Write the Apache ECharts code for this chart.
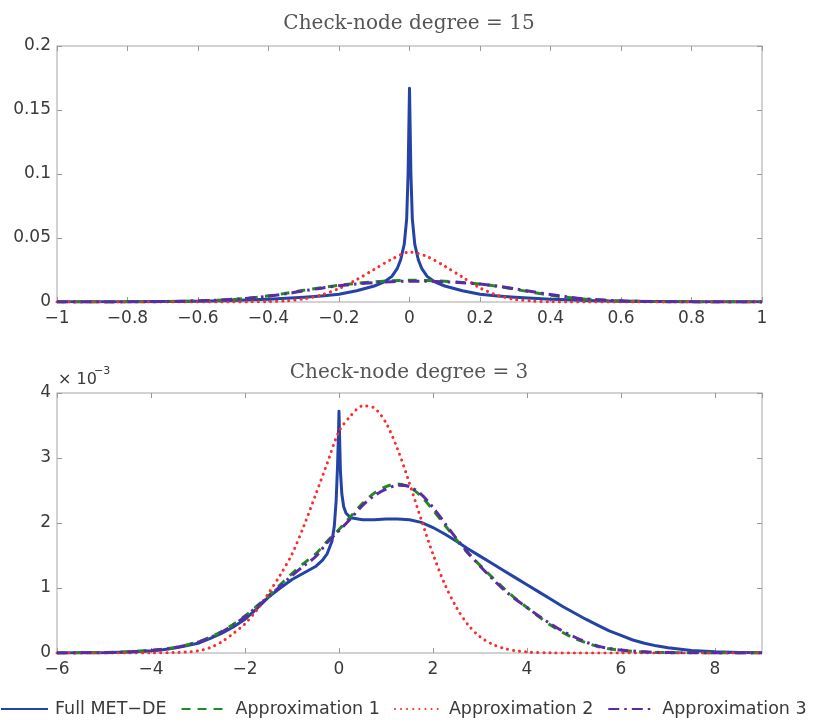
<!DOCTYPE html>
<html><head><meta charset="utf-8">
<script src="https://cdn.jsdelivr.net/npm/echarts/dist/echarts.min.js"></script>
<style>html,body{margin:0;padding:0;background:#fff}#c{width:818px;height:728px}</style>
</head><body><div id="c"></div>
<script>
// ---------- DATA ----------
const seriesNames = ['Full MET\u2212DE', 'Approximation 1', 'Approximation 2', 'Approximation 3'];
const titles = ['Check-node degree = 15', 'Check-node degree = 3'];

// Top panel (check-node degree 15): [x, density]
const topFull = [[-1,0.0001],[-0.8,0.0002],[-0.6,0.0006],[-0.5,0.0012],[-0.45,0.0017],[-0.4,0.0022],[-0.35,0.0029],[-0.3,0.0037],[-0.25,0.0047],[-0.2,0.006],[-0.15,0.0088],[-0.1,0.0125],[-0.07,0.016],[-0.05,0.02],[-0.035,0.026],[-0.025,0.033],[-0.015,0.045],[-0.008,0.065],[-0.004,0.1],[0,0.167],[0.004,0.1],[0.008,0.065],[0.015,0.045],[0.025,0.033],[0.035,0.026],[0.05,0.02],[0.07,0.016],[0.1,0.0125],[0.15,0.0088],[0.2,0.006],[0.25,0.0047],[0.3,0.0037],[0.35,0.0029],[0.4,0.0022],[0.45,0.0017],[0.5,0.0012],[0.6,0.0006],[0.8,0.0002],[1,0.0001]];
const topApprox1 = [[-1,0],[-0.9,0],[-0.8,0.0001],[-0.7,0.0003],[-0.65,0.0005],[-0.6,0.0008],[-0.55,0.0013],[-0.5,0.002],[-0.45,0.0032],[-0.4,0.0048],[-0.35,0.0068],[-0.3,0.0091],[-0.25,0.0112],[-0.2,0.0131],[-0.15,0.0146],[-0.1,0.0158],[-0.05,0.0166],[0,0.017],[0.05,0.0168],[0.1,0.0162],[0.15,0.0153],[0.2,0.0141],[0.25,0.0122],[0.3,0.0099],[0.35,0.0075],[0.4,0.0053],[0.45,0.0035],[0.5,0.0022],[0.55,0.0014],[0.6,0.0008],[0.65,0.0005],[0.7,0.0003],[0.8,0.0001],[0.9,0],[1,0]];
const topApprox2 = [[-1,0],[-0.5,0],[-0.45,0.0001],[-0.4,0.0003],[-0.35,0.0009],[-0.3,0.0024],[-0.25,0.0055],[-0.2,0.0105],[-0.15,0.0175],[-0.1,0.0255],[-0.05,0.0335],[0,0.039],[0.05,0.0355],[0.1,0.028],[0.15,0.0195],[0.2,0.011],[0.25,0.0052],[0.3,0.002],[0.35,0.0007],[0.4,0.0002],[0.45,0],[0.5,0],[1,0]];
const topApprox3 = [[-1,0],[-0.9,0],[-0.8,0.0001],[-0.7,0.0003],[-0.65,0.0005],[-0.6,0.0009],[-0.55,0.0014],[-0.5,0.0021],[-0.45,0.0031],[-0.4,0.0045],[-0.35,0.0064],[-0.3,0.0087],[-0.25,0.0108],[-0.2,0.0127],[-0.15,0.0141],[-0.1,0.0152],[-0.05,0.0159],[0,0.0163],[0.05,0.0162],[0.1,0.0158],[0.15,0.0151],[0.2,0.014],[0.25,0.0124],[0.3,0.0103],[0.35,0.008],[0.4,0.0058],[0.45,0.0039],[0.5,0.0024],[0.55,0.0015],[0.6,0.0009],[0.65,0.0005],[0.7,0.0003],[0.8,0.0001],[0.9,0],[1,0]];

// Bottom panel (check-node degree 3): [x, density in units of 1e-3]
const botFull = [[-6,0],[-5.5,0.002],[-5,0.005],[-4.5,0.015],[-4,0.035],[-3.75,0.05],[-3.5,0.075],[-3.25,0.11],[-3,0.15],[-2.75,0.22],[-2.5,0.3],[-2.25,0.4],[-2,0.52],[-1.75,0.68],[-1.5,0.86],[-1.25,1.0],[-1,1.13],[-0.75,1.23],[-0.5,1.33],[-0.35,1.43],[-0.25,1.53],[-0.15,1.72],[-0.1,1.95],[-0.06,2.35],[-0.03,2.9],[-0.01,3.4],[0,3.72],[0.01,3.4],[0.03,2.8],[0.06,2.45],[0.1,2.25],[0.15,2.15],[0.25,2.08],[0.5,2.05],[0.75,2.05],[1,2.06],[1.25,2.06],[1.5,2.05],[1.75,2.01],[2,1.93],[2.25,1.83],[2.5,1.72],[2.75,1.6],[3,1.49],[3.25,1.38],[3.5,1.27],[3.75,1.16],[4,1.05],[4.25,0.94],[4.5,0.83],[4.75,0.72],[5,0.62],[5.25,0.52],[5.5,0.43],[5.75,0.34],[6,0.27],[6.25,0.2],[6.5,0.15],[6.75,0.11],[7,0.08],[7.5,0.04],[8,0.018],[8.5,0.008],[9,0.003]];
const botApprox1 = [[-6,0],[-5.5,0.002],[-5,0.006],[-4.5,0.018],[-4,0.04],[-3.5,0.085],[-3,0.17],[-2.75,0.24],[-2.5,0.33],[-2.25,0.44],[-2,0.57],[-1.75,0.72],[-1.5,0.88],[-1.25,1.05],[-1,1.22],[-0.75,1.38],[-0.5,1.52],[-0.25,1.72],[0,1.9],[0.25,2.1],[0.5,2.3],[0.75,2.46],[1,2.56],[1.25,2.6],[1.5,2.55],[1.75,2.41],[2,2.2],[2.25,1.97],[2.5,1.74],[2.75,1.53],[3,1.35],[3.25,1.17],[3.5,1.0],[3.75,0.84],[4,0.7],[4.25,0.56],[4.5,0.43],[4.75,0.32],[5,0.23],[5.25,0.16],[5.5,0.1],[5.75,0.065],[6,0.04],[6.5,0.015],[7,0.005],[8,0.001],[9,0]];
const botApprox2 = [[-6,0],[-4.5,0],[-4,0.001],[-3.5,0.007],[-3.25,0.016],[-3,0.032],[-2.75,0.08],[-2.5,0.17],[-2.25,0.3],[-2,0.45],[-1.75,0.66],[-1.5,0.92],[-1.25,1.2],[-1,1.52],[-0.75,1.95],[-0.5,2.43],[-0.25,2.92],[0,3.41],[0.25,3.65],[0.5,3.8],[0.75,3.77],[1,3.54],[1.25,3.13],[1.5,2.61],[1.75,2.05],[2,1.52],[2.25,1.06],[2.5,0.7],[2.75,0.43],[3,0.25],[3.25,0.14],[3.5,0.073],[3.75,0.035],[4,0.016],[4.5,0.002],[5,0],[6,0],[7,0],[8,0],[9,0]];
const botApprox3 = [[-6,0],[-5.5,0.002],[-5,0.005],[-4.5,0.016],[-4,0.038],[-3.5,0.082],[-3,0.165],[-2.75,0.235],[-2.5,0.32],[-2.25,0.43],[-2,0.56],[-1.75,0.71],[-1.5,0.86],[-1.25,1.03],[-1,1.19],[-0.75,1.34],[-0.5,1.48],[-0.25,1.7],[0,1.88],[0.25,2.07],[0.5,2.27],[0.75,2.42],[1,2.52],[1.25,2.58],[1.5,2.56],[1.75,2.44],[2,2.24],[2.25,2.0],[2.5,1.76],[2.75,1.54],[3,1.34],[3.25,1.15],[3.5,0.98],[3.75,0.83],[4,0.7],[4.25,0.57],[4.5,0.45],[4.75,0.34],[5,0.25],[5.25,0.17],[5.5,0.11],[5.75,0.07],[6,0.045],[6.5,0.018],[7,0.006],[8,0.001],[9,0]];

// ---------- STYLE ----------
const colors = ['#2443a6', '#228a22', '#ff2b2b', '#5a2ca3'];
const dashes = ['solid', [9, 7], [0.1, 6], [11, 5, 2.5, 5]];
const widths = [3, 3, 3, 3];
const caps = ['butt', 'butt', 'round', 'butt'];
const tickFont = 'DejaVu Sans';
const lbl = v => String(v).replace('-', '\u2212');

const chart = echarts.init(document.getElementById('c'), null, {renderer: 'canvas'});

const gridBox = [
  {left: 57, top: 46, width: 705, height: 256},
  {left: 57, top: 393, width: 705, height: 260}
];
const tickStyle = {show: true, inside: true, length: 5, lineStyle: {color: '#9a9a9a', width: 1}};
function xAx(gi, min, max, interval, pos, showLabel, hideMax) {
  return {
    type: 'value', gridIndex: gi, position: pos, min, max, interval,
    axisLine: {show: false, onZero: false}, splitLine: {show: false},
    axisTick: tickStyle,
    axisLabel: {show: showLabel, formatter: lbl, fontFamily: tickFont, fontSize: 17, color: '#3a3a3a', margin: 8, showMaxLabel: !hideMax, showMinLabel: true}
  };
}
function yAx(gi, min, max, interval, pos, showLabel) {
  return {
    type: 'value', gridIndex: gi, position: pos, min, max, interval,
    axisLine: {show: false, onZero: false}, splitLine: {show: false},
    axisTick: tickStyle,
    axisLabel: {show: showLabel, formatter: lbl, fontFamily: tickFont, fontSize: 17, color: '#3a3a3a', margin: 6}
  };
}

const topData = [topFull, topApprox1, topApprox2, topApprox3];
const botData = [botFull, botApprox1, botApprox2, botApprox3];
const series = [];
[topData, botData].forEach((set, gi) => {
  set.forEach((d, i) => {
    series.push({
      type: 'line', name: seriesNames[i], data: d,
      xAxisIndex: gi * 2, yAxisIndex: gi * 2,
      showSymbol: false, symbol: 'none',
      smooth: i === 0 ? false : 0.3,
      lineStyle: {color: colors[i], width: widths[i], type: dashes[i], cap: caps[i], join: 'round'},
      itemStyle: {color: colors[i]},
      z: 2 + i, animation: false, clip: true
    });
  });
});

chart.setOption({
  animation: false,
  backgroundColor: '#fff',
  title: [
    {text: titles[0], left: 'center', top: 9, textStyle: {fontFamily: 'DejaVu Serif', fontWeight: 'normal', fontSize: 20, color: '#555'}},
    {text: titles[1], left: 'center', top: 358, textStyle: {fontFamily: 'DejaVu Serif', fontWeight: 'normal', fontSize: 20, color: '#555'}}
  ],
  grid: gridBox.map(g => Object.assign({show: true, borderColor: '#c4c4c4', borderWidth: 1.5, backgroundColor: '#fff', containLabel: false}, g)),
  xAxis: [
    xAx(0, -1, 1, 0.2, 'bottom', true, false),
    xAx(0, -1, 1, 0.2, 'top', false, false),
    xAx(1, -6, 9, 2, 'bottom', true, true),
    xAx(1, -6, 9, 2, 'top', false, false)
  ],
  yAxis: [
    yAx(0, 0, 0.2, 0.05, 'left', true),
    yAx(0, 0, 0.2, 0.05, 'right', false),
    yAx(1, 0, 4, 1, 'left', true),
    yAx(1, 0, 4, 1, 'right', false)
  ],
  legend: {
    data: seriesNames, left: 0, top: 700, orient: 'horizontal', padding: 0,
    itemWidth: 47, itemHeight: 14, itemGap: 14,
    itemStyle: {opacity: 0, borderWidth: 0},
    textStyle: {fontFamily: tickFont, fontSize: 17.5, color: '#3a3a3a', padding: [0, 0, 0, 2]},
    selectedMode: false
  },
  graphic: [
    {type: 'text', left: 58, top: 372, style: {text: '\u00d7 10', fontFamily: tickFont, fontSize: 16, fill: '#3a3a3a'}},
    {type: 'text', left: 94, top: 366, style: {text: '\u22123', fontFamily: tickFont, fontSize: 11, fill: '#3a3a3a'}}
  ],
  series
});
</script></body></html>
